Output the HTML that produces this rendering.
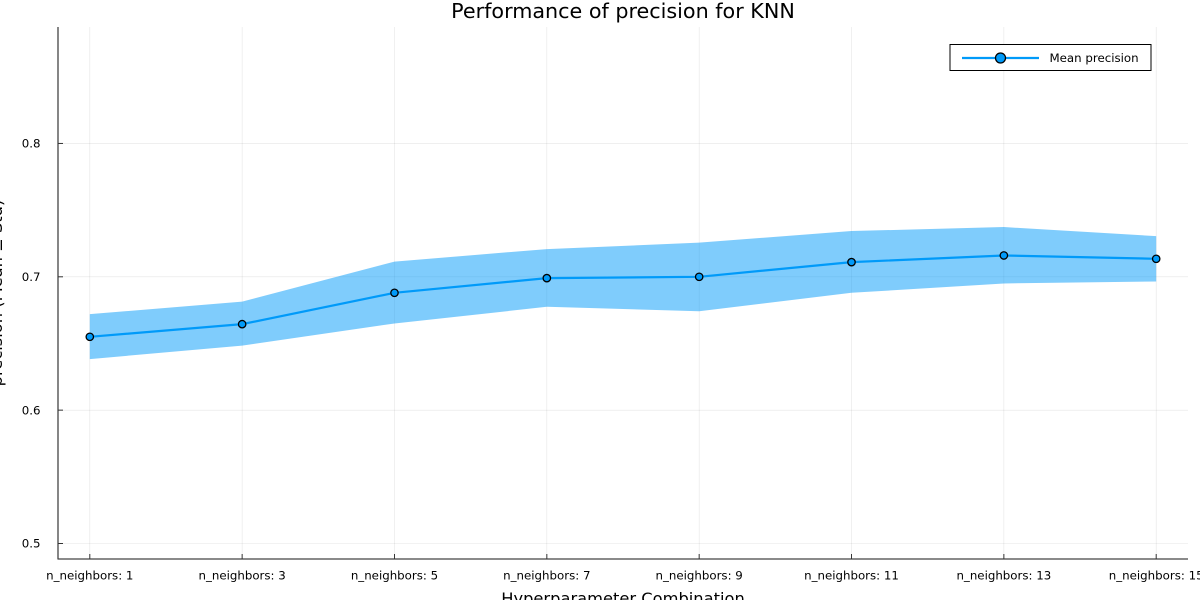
<!DOCTYPE html>
<html>
<head>
<meta charset="utf-8">
<title>Performance of precision for KNN</title>
<style>
html,body{margin:0;padding:0;background:#fff;width:1200px;height:600px;overflow:hidden}
svg{display:block}
text{font-family:"DejaVu Sans","Liberation Sans",sans-serif;fill:#000}
</style>
</head>
<body>
<svg id="chart" width="1200" height="600" viewBox="0 0 1200 600" xmlns="http://www.w3.org/2000/svg"></svg>
<script>
const categories = ["n_neighbors: 1","n_neighbors: 3","n_neighbors: 5","n_neighbors: 7","n_neighbors: 9","n_neighbors: 11","n_neighbors: 13","n_neighbors: 15"];
const meanValues = [0.655,0.6645,0.688,0.699,0.700,0.711,0.716,0.7135];
const upperValues = [0.672,0.6814,0.7114,0.7208,0.7256,0.7343,0.7373,0.7305];
const lowerValues = [0.6383,0.6484,0.665,0.6775,0.6742,0.688,0.695,0.6965];
const yTicks = [0.5,0.6,0.7,0.8];
const yTickLabels = ["0.5","0.6","0.7","0.8"];

const plot = {left:58,right:1188,top:27,bottom:559};
const x = i => 89.8 + i * (1156.2 - 89.8) / 7;
const y = v => 543.5 - (v - 0.5) * 1333.5;

const svg = document.getElementById('chart');
const NS = 'http://www.w3.org/2000/svg';
function make(tag, attrs, text){
  const el = document.createElementNS(NS, tag);
  for (const k in attrs) el.setAttribute(k, attrs[k]);
  if (text !== undefined) el.textContent = text;
  svg.appendChild(el);
  return el;
}
let el;

categories.forEach((c,i)=>{
  el = make('line',{x1:x(i),x2:x(i),y1:plot.top,y2:plot.bottom,stroke:'#000','stroke-opacity':0.1,'stroke-width':0.6});
  
  
});
yTicks.forEach(t=>{
  el = make('line',{x1:plot.left,x2:plot.right,y1:y(t),y2:y(t),stroke:'#000','stroke-opacity':0.1,'stroke-width':0.6});
  
  
});

const upperPts = upperValues.map((v,i)=>x(i)+','+y(v));
const lowerPts = lowerValues.map((v,i)=>x(i)+','+y(v)).reverse();
el = make('polygon',{points:upperPts.concat(lowerPts).join(' '),fill:'#009af9','fill-opacity':0.5});



el = make('line',{x1:plot.left,x2:plot.left,y1:plot.top,y2:plot.bottom+0.5,stroke:'#444','stroke-width':1.3});


el = make('line',{x1:plot.left,x2:plot.right,y1:plot.bottom,y2:plot.bottom,stroke:'#444','stroke-width':1.3});



yTicks.forEach((t,i)=>{
  el = make('line',{x1:plot.left,x2:plot.left+5,y1:y(t),y2:y(t),stroke:'#333','stroke-width':1});
  
  
  el = make('text',{x:40.5,y:y(t)+4.2,'text-anchor':'end','font-size':11.8},yTickLabels[i]);
  
  
});
categories.forEach((c,i)=>{
  el = make('line',{x1:x(i),x2:x(i),y1:plot.bottom,y2:plot.bottom-5,stroke:'#333','stroke-width':1});
  
  
  el = make('text',{x:x(i),y:579.3,'text-anchor':'middle','font-size':11.8},c);
  
  
});

el = make('polyline',{points:meanValues.map((v,i)=>x(i)+','+y(v)).join(' '),fill:'none',stroke:'#009af9','stroke-width':2.2,'stroke-linejoin':'round'});


meanValues.forEach((v,i)=>{
  el = make('circle',{cx:x(i),cy:y(v),r:3.7,fill:'#009af9',stroke:'#000','stroke-width':1.3});
  
  
});

el = make('text',{x:623,y:18,'text-anchor':'middle','font-size':20.7},'Performance of precision for KNN');


el = make('text',{x:623,y:604,'text-anchor':'middle','font-size':16.3},'Hyperparameter Combination');


el = make('text',{x:0,y:0,'text-anchor':'middle','font-size':16.3,transform:'translate(2,293) rotate(-90)'},'precision (Mean ± Std)');



el = make('rect',{x:950,y:44.5,width:201,height:26,fill:'#fff',stroke:'#000','stroke-width':1});


el = make('line',{x1:962,x2:1039,y1:58,y2:58,stroke:'#009af9','stroke-width':2.2});


el = make('circle',{cx:1000.5,cy:58,r:5,fill:'#009af9',stroke:'#000','stroke-width':1.3});


el = make('text',{x:1049.5,y:62.2,'font-size':11.8},'Mean precision');


</script>
</body>
</html>
